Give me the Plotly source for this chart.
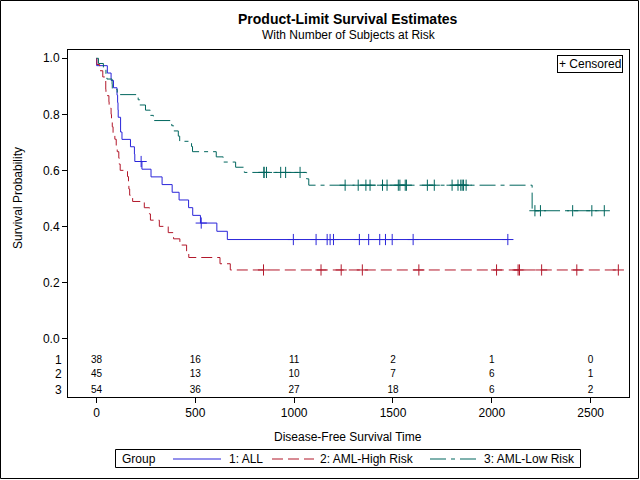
import plotly.graph_objects as go

# ---- Data (BMT: disease-free survival time, status 1 = event, 0 = censored) ----
all_time = [2081, 1602, 1496, 1462, 1433, 1377, 1330, 996, 226, 1199, 1111, 530, 1182, 1167,
            418, 383, 276, 104, 609, 172, 487, 662, 194, 230, 526, 122, 129, 74, 122, 86,
            466, 192, 109, 55, 1, 107, 110, 332]
all_status = [0]*14 + [1]*24

high_time = [2640, 2430, 2252, 2140, 2133, 1238, 1631, 2024, 1345, 1136, 845,
             422, 162, 84, 100, 2, 47, 242, 456, 268, 318, 32, 467, 47, 390, 183, 105,
             115, 164, 93, 120, 80, 677, 64, 168, 74, 16, 157, 625, 48, 273, 63, 76, 113, 363]
high_status = [0]*11 + [1]*34

low_time = [2569, 2506, 2409, 2218, 1857, 1829, 1562, 1470, 1363, 1030, 860, 1258, 2246,
            1870, 1799, 1709, 1674, 1568, 1527, 1324, 957, 932, 847, 848, 1850, 1843, 1535,
            1447, 1384,
            414, 2204, 1063, 481, 105, 641, 390, 288, 421, 79, 748, 486, 48, 272, 1074, 381,
            10, 53, 80, 35, 248, 704, 211, 219, 606]
low_status = [0]*29 + [1]*25

group_names = ["1: ALL", "2: AML-High Risk", "3: AML-Low Risk"]
group_labels = ["1", "2", "3"]
risk_times = [0, 500, 1000, 1500, 2000, 2500]
risk_all = [38, 16, 11, 2, 1, 0]
risk_high = [45, 13, 10, 7, 6, 1]
risk_low = [54, 36, 27, 18, 6, 2]
x_ticks = [0, 500, 1000, 1500, 2000, 2500]
y_ticks = [0.0, 0.2, 0.4, 0.6, 0.8, 1.0]

colors = ["#2A25D9", "#B2182B", "#01665E"]
dashes = ["solid", "11px,5px", "16px,5px,4px,5px"]
FONT = "Arial, Liberation Sans, sans-serif"


def km(times, status):
    pairs = sorted(zip(times, status))
    at_risk = len(pairs)
    s = 1.0
    xs, ys, cx, cy = [0], [1.0], [], []
    for t in sorted(set(times)):
        d = sum(1 for tt, st in pairs if tt == t and st == 1)
        c = sum(1 for tt, st in pairs if tt == t and st == 0)
        if d:
            s *= 1 - d / at_risk
            xs.append(t)
            ys.append(s)
        if c:
            cx.append(t)
            cy.append(s)
        at_risk -= d + c
    last = max(times)
    if xs[-1] != last:
        xs.append(last)
        ys.append(s)
    return xs, ys, cx, cy


fig = go.Figure()
groups = [(all_time, all_status), (high_time, high_status), (low_time, low_status)]
for i, (t, st) in enumerate(groups):
    xs, ys, cx, cy = km(t, st)
    fig.add_trace(go.Scatter(x=xs, y=ys, mode="lines", line_shape="hv", name=group_names[i],
                             line=dict(color=colors[i], width=1, dash=dashes[i]),
                             hoverinfo="skip", showlegend=False))
    fig.add_trace(go.Scatter(x=cx, y=cy, mode="markers", showlegend=False,
                             name=group_names[i] + " censored",
                             marker=dict(symbol="cross-thin", size=8,
                                         line=dict(color=colors[i], width=1)),
                             hoverinfo="skip"))

risk_rows = [risk_all, risk_high, risk_low]
row_y = [-0.077, -0.128, -0.184]
for i, row in enumerate(risk_rows):
    fig.add_trace(go.Scatter(x=risk_times, y=[row_y[i]]*len(risk_times), mode="text",
                             text=[str(v) for v in row], showlegend=False,
                             textfont=dict(family=FONT, size=10, color="black"),
                             hoverinfo="skip"))

# pixel helpers (plot area in pixels)
L, T, W, H = 68, 50, 561, 347
def px(x):
    return (x - L) / W
def py(y):
    return (T + H - y) / H

txt = dict(family=FONT, size=12, color="black")
annotations = [
    dict(text="<b>Product-Limit Survival Estimates</b>", x=px(348), y=py(19), xref="paper",
         yref="paper", showarrow=False, font=dict(family=FONT, size=14, color="black"),
         xanchor="center", yanchor="middle"),
    dict(text="With Number of Subjects at Risk", x=px(349), y=py(35), xref="paper",
         yref="paper", showarrow=False, font=txt, xanchor="center", yanchor="middle"),
    dict(text="Disease-Free Survival Time", x=px(348), y=py(437), xref="paper", yref="paper",
         showarrow=False, font=txt, xanchor="center", yanchor="middle"),
    dict(text="Survival Probability", x=px(18), y=py(198), xref="paper", yref="paper",
         showarrow=False, textangle=-90, font=txt, xanchor="center", yanchor="middle"),
    dict(text="+ Censored", x=px(623), y=py(55), xref="paper", yref="paper", showarrow=False,
         font=txt, xanchor="right", yanchor="top",
         bordercolor="black", borderwidth=1, borderpad=1, bgcolor="white"),
]
for i, lab in enumerate(group_labels):
    annotations.append(dict(text=lab, x=px(64), y=row_y[i], xref="paper", yref="y",
                            showarrow=False, xanchor="right", yanchor="middle", font=txt))

# legend (drawn to match the reference layout)
leg_y = 459
leg_lines = [(173, 221), (272, 314), (430, 476)]
leg_text_x = [227, 318, 482]
shapes = [
    dict(type="rect", xref="paper", yref="paper", x0=px(0.5), x1=px(638.5),
         y0=py(478.5), y1=py(0.5), line=dict(color="black", width=1)),
    dict(type="rect", xref="paper", yref="paper", x0=px(115.5), x1=px(580.5),
         y0=py(467.5), y1=py(449.5), line=dict(color="black", width=1)),
]
annotations.append(dict(text="Group", x=px(120), y=py(leg_y), xref="paper", yref="paper",
                        showarrow=False, xanchor="left", yanchor="middle", font=txt))
for i in range(3):
    shapes.append(dict(type="line", xref="paper", yref="paper",
                       x0=px(leg_lines[i][0]), x1=px(leg_lines[i][1]),
                       y0=py(leg_y), y1=py(leg_y), layer="above",
                       line=dict(color=colors[i], width=1.2, dash=dashes[i])))
    annotations.append(dict(text=group_names[i], x=px(leg_text_x[i]), y=py(leg_y),
                            xref="paper", yref="paper", showarrow=False, xanchor="left",
                            yanchor="middle", font=txt))

fig.update_layout(
    width=640, height=480,
    margin=dict(l=L, r=640 - L - W, t=T, b=480 - T - H, autoexpand=False),
    paper_bgcolor="white", plot_bgcolor="white",
    font=txt,
    annotations=annotations,
    shapes=shapes,
    showlegend=False,
)
fig.update_xaxes(range=[-144, 2694], tickvals=x_ticks, ticks="outside", ticklen=5,
                 tickcolor="black", showline=True, linecolor="black", linewidth=1,
                 mirror=True, showgrid=False, zeroline=False, tickfont=txt)
fig.update_yaxes(range=[-0.209, 1.0296], tickvals=y_ticks, ticktext=[f"{v:.1f}" for v in y_ticks],
                 ticks="outside", ticklen=5, tickcolor="black", showline=True,
                 linecolor="black", linewidth=1, mirror=True, showgrid=False, zeroline=False,
                 tickfont=txt)

fig.write_html("out.html", config={"displayModeBar": False},
               post_script="document.body.style.margin='0';document.body.style.overflow='hidden';")
